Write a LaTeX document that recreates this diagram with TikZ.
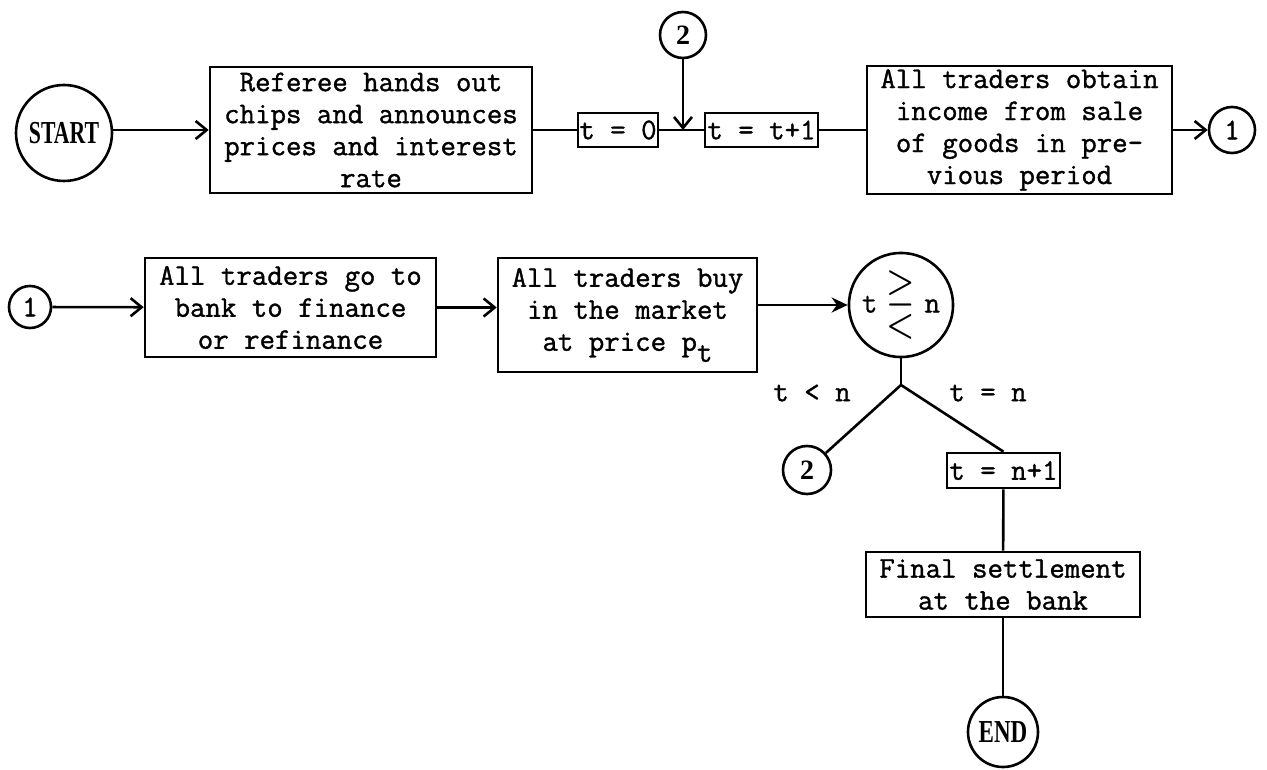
\documentclass[tikz,border=0pt]{standalone}
\usepackage{fontspec}
\usepackage{amssymb}
\usepackage{graphicx}
\usetikzlibrary{arrows.meta}
\newfontfamily\capfont{Liberation Serif}
\newfontfamily\twfont{Latin Modern Mono}[FakeBold=1.2]
\begin{document}
\begin{tikzpicture}[x=1pt,y=-1pt,
  line width=2.6pt,
  txt/.style={font=\twfont\fontsize{30}{32}\selectfont},
  box/.style={draw, txt, align=center, inner sep=0pt},
  smallbox/.style={draw, txt, inner sep=0pt, minimum height=34pt},
  circ/.style={draw, circle, inner sep=0pt},
  capt/.style={font=\capfont\bfseries\fontsize{32}{32}\selectfont},
  numt/.style={font=\capfont\bfseries\fontsize{28}{28}\selectfont},
  arr/.style={-{Straight Barb[length=11pt,width=18pt,line width=2.6pt]}},
  arrf/.style={-{Stealth[length=16pt,width=15pt]}},
]
\useasboundingbox (0,0) rectangle (1267,770);

% row 1
\node[circ, minimum size=96pt, capt] (start) at (64,133) {\scalebox{0.68}[1]{START}};
\node[box, minimum width=322pt, minimum height=126pt] (b1) at (371,130)
  {Referee hands out\\chips and announces\\prices and interest\\rate};
\node[smallbox, minimum width=80pt] (t0) at (618,130) {t = 0};
\node[smallbox, minimum width=113pt] (tt1) at (761.5,130) {t = t+1};
\node[circ, minimum size=46pt, numt] (c2a) at (683,35) {2};
\coordinate (j1) at (683,130);
\node[box, minimum width=305pt, minimum height=128pt] (b3) at (1019.5,130)
  {All traders obtain\\income from sale\\of goods in pre-\\vious period};
\node[circ, minimum size=46pt, txt] (c1a) at (1232,130) {1};

\draw[arr] (start.east |- b1.west) -- (b1.west);
\draw (b1) -- (t0);
\draw (t0) -- (tt1);
\draw[arr] (c2a) -- (j1);
\draw (tt1) -- (b3);
\draw[arr] (b3) -- (c1a);

% row 2
\node[circ, minimum size=42pt, txt] (c1b) at (30,307) {1};
\node[box, minimum width=291pt, minimum height=99pt] (b4) at (290.5,307.5)
  {All traders go to\\bank to finance\\or refinance};
\node[box, minimum width=259pt, minimum height=114pt] (b5) at (627.5,315)
  {All traders buy\\in the market\\at price p\raisebox{-11pt}{t}};
\node[circ, minimum size=97pt, txt] (dec) at (901,305)
  {t\hspace{9pt}\raisebox{-6pt}{\scalebox{1.25}[1.8]{$\gtreqless$}}\hspace{9pt}n};

\draw[arr] (c1b) -- (b4);
\draw[arr] (b4.east) -- (b4.east -| b5.west);
\draw[arrf] (dec.west -| b5.east) -- (dec.west);

% branch
\coordinate (j2) at (901,385);
\node[circ, minimum size=48pt, numt] (c2b) at (807,470) {2};
\node[smallbox, minimum width=113pt, minimum height=35pt] (tn1) at (1003.5,470.5) {t = n+1};
\node[txt] (ltn) at (812,393) {t < n};
\node[txt] (leq) at (988,393) {t = n};
\node[box, minimum width=274pt, minimum height=65pt] (fin) at (1003,584.5)
  {Final settlement\\at the bank};
\node[circ, minimum size=70pt, capt] (endn) at (1003,732) {\scalebox{0.72}[1]{END}};

\draw (dec) -- (j2);
\draw (j2) -- (c2b);
\draw (j2) -- (tn1.north);
\draw (tn1) -- (fin);
\draw (fin) -- (endn);
\end{tikzpicture}
\end{document}
